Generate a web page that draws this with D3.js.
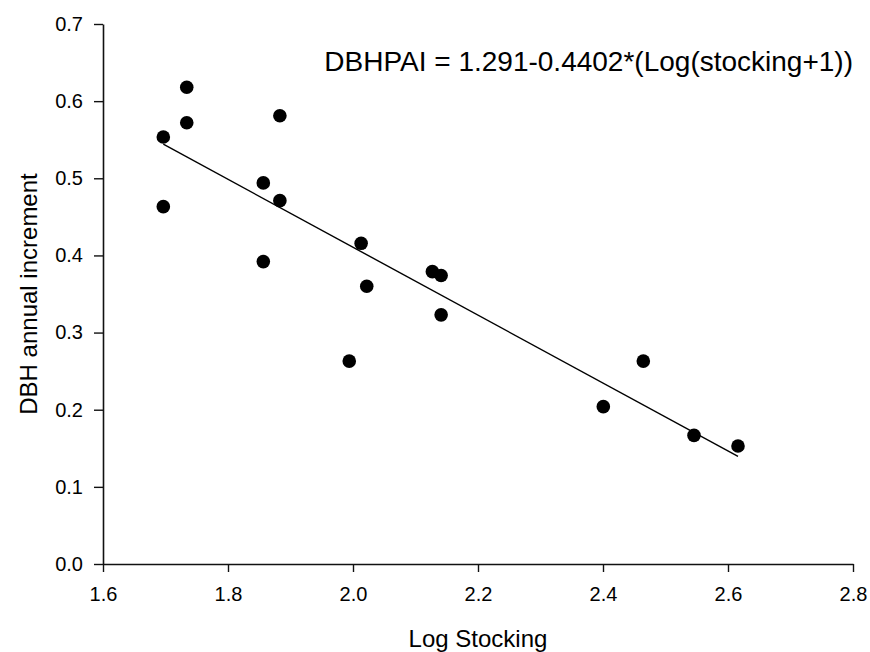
<!DOCTYPE html>
<html>
<head>
<meta charset="utf-8">
<script src="https://cdn.jsdelivr.net/npm/d3@7"></script>
<style>
  html, body { margin: 0; padding: 0; background: #fff; }
  svg { display: block; font-family: "Liberation Sans", Arial, sans-serif; }
</style>
</head>
<body>
<svg id="chart" width="870" height="652"></svg>
<script>
// Log stocking vs. DBH periodic annual increment
const logStocking = [1.6965, 1.6965, 1.734, 1.734, 1.883, 1.8565, 1.883, 1.8565, 2.013,
                     2.127, 2.141, 2.022, 2.141, 1.994, 2.4005, 2.4645, 2.5456, 2.616];
const dbhIncrement = [0.5535, 0.4632, 0.618, 0.572, 0.581, 0.494, 0.471, 0.392, 0.4157,
                      0.379, 0.374, 0.360, 0.323, 0.263, 0.204, 0.263, 0.1668, 0.153];

// Fitted regression: DBHPAI = intercept + slope * log(stocking + 1)
const intercept = 1.291;
const slope = -0.4402;

const xTicks = [1.6, 1.8, 2.0, 2.2, 2.4, 2.6, 2.8];
const yTicks = [0.0, 0.1, 0.2, 0.3, 0.4, 0.5, 0.6, 0.7];

const equationLabel = "DBHPAI = 1.291-0.4402*(Log(stocking+1))";
const xTitle = "Log Stocking";
const yTitle = "DBH annual increment";

const width = 870, height = 652;
const margin = { top: 24, right: 17, bottom: 88, left: 103 };

const svg = d3.select("#chart");

const x = d3.scaleLinear().domain([1.6, 2.8]).range([margin.left, width - margin.right]);
const y = d3.scaleLinear().domain([0, 0.7]).range([height - margin.bottom, margin.top]);

// Axes
const xAxis = svg.append("g")
  .attr("transform", `translate(0,${height - margin.bottom})`)
  .call(d3.axisBottom(x).tickValues(xTicks).tickFormat(d3.format(".1f"))
    .tickSize(8).tickSizeOuter(0).tickPadding(15));

const yAxis = svg.append("g")
  .attr("transform", `translate(${margin.left},0)`)
  .call(d3.axisLeft(y).tickValues(yTicks).tickFormat(d3.format(".1f"))
    .tickSize(9).tickSizeOuter(0).tickPadding(11));

[xAxis, yAxis].forEach(g => {
  g.selectAll("path.domain").attr("stroke", "#111").attr("stroke-width", 1.6);
  g.selectAll(".tick line").attr("stroke", "#111").attr("stroke-width", 1.4);
  g.selectAll(".tick text").attr("fill", "#000")
    .style("font-size", "20px").style("font-family", "'Liberation Sans', Arial, sans-serif");
});

// Regression line over the observed range
const xExtent = d3.extent(logStocking);
const fitLine = xExtent.map(v => [v, intercept + slope * v]);
svg.append("path")
  .datum(fitLine)
  .attr("fill", "none")
  .attr("stroke", "#000")
  .attr("stroke-width", 1.4)
  .attr("d", d3.line().x(d => x(d[0])).y(d => y(d[1])));

// Observations
svg.append("g")
  .selectAll("circle")
  .data(logStocking.map((v, i) => [v, dbhIncrement[i]]))
  .join("circle")
  .attr("cx", d => x(d[0]))
  .attr("cy", d => y(d[1]))
  .attr("r", 6.8)
  .attr("fill", "#000");

// Equation
svg.append("text")
  .attr("x", width - margin.right)
  .attr("y", 71)
  .attr("text-anchor", "end")
  .style("font-size", "28px")
  .text(equationLabel);

// Axis titles
svg.append("text")
  .attr("x", (margin.left + width - margin.right) / 2)
  .attr("y", 647)
  .attr("text-anchor", "middle")
  .style("font-size", "24px")
  .text(xTitle);

svg.append("text")
  .attr("transform", `translate(37,${(margin.top + height - margin.bottom) / 2}) rotate(-90)`)
  .attr("text-anchor", "middle")
  .style("font-size", "24px")
  .text(yTitle);
</script>
</body>
</html>
